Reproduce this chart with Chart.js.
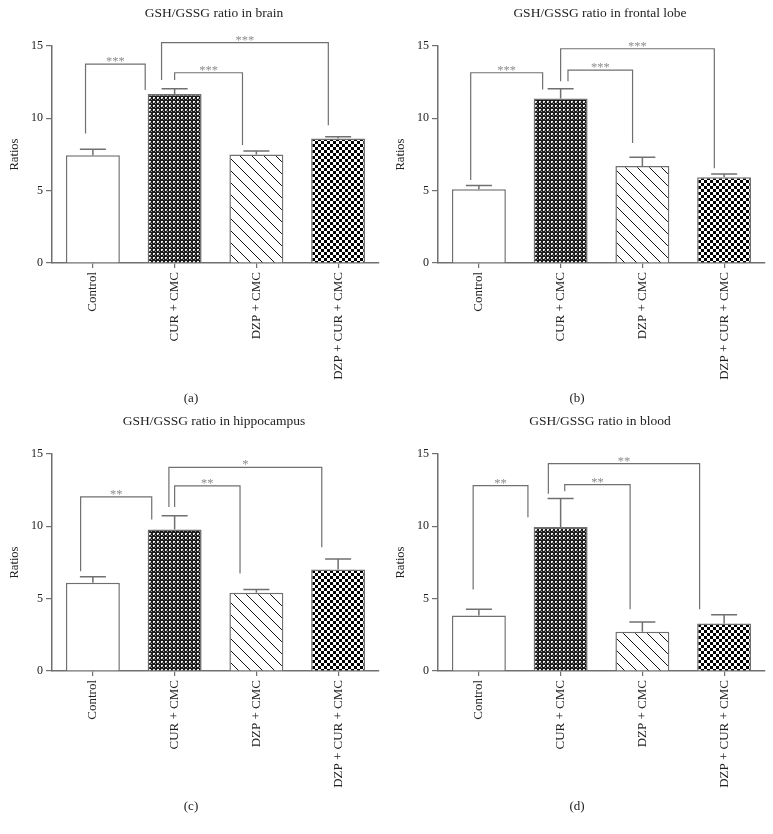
<!DOCTYPE html>
<html>
<head>
<meta charset="utf-8">
<script src="https://cdn.jsdelivr.net/npm/chart.js@4.4.0/dist/chart.umd.min.js"></script>
<style>
  body { margin: 0; background: #fff; }
  #wrap { position: relative; width: 773px; height: 834px; background: #fff; font-family: "Liberation Serif", serif; color: #222; }
  canvas { position: absolute; }
  .ttl { position: absolute; width: 320px; text-align: center; font-size: 13.5px; line-height: 16px; }
  .cap { position: absolute; width: 40px; text-align: center; font-size: 13px; line-height: 16px; }
</style>
</head>
<body>
<div id="wrap"></div>
<script>
// Groupes
const groups = ['Control', 'CUR + CMC', 'DZP + CMC', 'DZP + CUR + CMC'];
const yTicks = [0, 5, 10, 15];

// Moyennes et SEM
const brainMean = [7.45, 11.68, 7.5, 8.6];
const brainSem = [0.42, 0.37, 0.25, 0.12];
const frontalMean = [5.09, 11.37, 6.71, 5.93];
const frontalSem = [0.26, 0.67, 0.6, 0.23];
const hippoMean = [6.1, 9.78, 5.41, 7.02];
const hippoSem = [0.41, 0.96, 0.23, 0.73];
const bloodMean = [3.84, 9.96, 2.71, 3.29];
const bloodSem = [0.42, 1.96, 0.67, 0.6];

// Crochets de significativité : [x gauche, x droite, y haut, y bout gauche, y bout droit, texte]
const brainSig = [
  [-0.09, 0.64, 13.75, 8.95, 11.95, '***'],
  [0.84, 2.88, 15.23, 12.65, 9.53, '***'],
  [1.0, 1.83, 13.15, 12.65, 8.15, '***']
];
const frontalSig = [
  [-0.10, 0.78, 13.15, 5.74, 11.99, '***'],
  [1.0, 2.88, 14.81, 12.57, 6.55, '***'],
  [1.09, 1.88, 13.33, 12.57, 8.29, '***']
];
const hippoSig = [
  [-0.15, 0.72, 12.03, 6.9, 10.47, '**'],
  [0.93, 2.80, 14.08, 11.34, 8.56, '*'],
  [1.0, 1.80, 12.79, 11.34, 6.74, '**']
];
const bloodSig = [
  [-0.07, 0.60, 12.81, 5.64, 10.63, '**'],
  [0.85, 2.70, 14.33, 12.26, 4.26, '**'],
  [1.05, 1.85, 12.88, 12.42, 4.26, '**']
];

const panels = [
  { title: 'GSH/GSSG ratio in brain', cap: '(a)', mean: brainMean, sem: brainSem, sig: brainSig, left: 0, top: 0 },
  { title: 'GSH/GSSG ratio in frontal lobe', cap: '(b)', mean: frontalMean, sem: frontalSem, sig: frontalSig, left: 386, top: 0 },
  { title: 'GSH/GSSG ratio in hippocampus', cap: '(c)', mean: hippoMean, sem: hippoSem, sig: hippoSig, left: 0, top: 408 },
  { title: 'GSH/GSSG ratio in blood', cap: '(d)', mean: bloodMean, sem: bloodSem, sig: bloodSig, left: 386, top: 408 }
];

const lineGrey = '#707070';
const serif = '"Liberation Serif", "Times New Roman", serif';

// Motifs de remplissage
function makeTile(w, h, draw) {
  const c = document.createElement('canvas');
  c.width = w; c.height = h;
  const g = c.getContext('2d');
  draw(g);
  return g.createPattern(c, 'repeat');
}
const dotsPattern = makeTile(4, 4, g => {
  g.fillStyle = '#1c1c1c'; g.fillRect(0, 0, 4, 4);
  g.fillStyle = '#f0f0f0';
  g.fillRect(1, 1, 2, 1); g.fillRect(1, 2, 1, 1);
  g.fillStyle = '#8a8a8a'; g.fillRect(3, 3, 1, 1); g.fillRect(2, 2, 1, 1);
});
const hatchPattern = makeTile(12, 12, g => {
  g.fillStyle = '#fff'; g.fillRect(0, 0, 12, 12);
  g.strokeStyle = '#111'; g.lineWidth = 1;
  g.beginPath();
  g.moveTo(-1, -1); g.lineTo(13, 13);
  g.moveTo(-1, 11); g.lineTo(1, 13);
  g.moveTo(11, -1); g.lineTo(13, 1);
  g.stroke();
});
const checkPattern = makeTile(6, 6, g => {
  g.fillStyle = '#fff'; g.fillRect(0, 0, 6, 6);
  g.fillStyle = '#000'; g.fillRect(0, 0, 3, 3); g.fillRect(3, 3, 3, 3);
});

// Barres d'erreur (vers le haut seulement)
const errorBars = {
  id: 'errorBars',
  afterDatasetsDraw(chart, args, opts) {
    const ctx = chart.ctx;
    const y = chart.scales.y;
    const meta = chart.getDatasetMeta(0);
    ctx.save();
    ctx.strokeStyle = lineGrey;
    ctx.lineWidth = 1.5;
    meta.data.forEach((bar, i) => {
      const v = chart.data.datasets[0].data[i];
      const yTop = y.getPixelForValue(v + opts.sem[i]);
      ctx.beginPath();
      ctx.moveTo(bar.x, bar.y);
      ctx.lineTo(bar.x, yTop);
      ctx.moveTo(bar.x - 13, yTop);
      ctx.lineTo(bar.x + 13, yTop);
      ctx.stroke();
    });
    ctx.restore();
  }
};

// Crochets + étoiles
const sigBrackets = {
  id: 'sigBrackets',
  afterDatasetsDraw(chart, args, opts) {
    const ctx = chart.ctx;
    const x = chart.scales.x, y = chart.scales.y;
    ctx.save();
    ctx.strokeStyle = lineGrey;
    ctx.lineWidth = 1.2;
    ctx.fillStyle = '#8c8c8c';
    ctx.font = '12.5px ' + serif;
    ctx.textAlign = 'center';
    ctx.textBaseline = 'alphabetic';
    opts.items.forEach(b => {
      const x1 = x.getPixelForValue(b[0]);
      const x2 = x.getPixelForValue(b[1]);
      const yt = y.getPixelForValue(b[2]);
      ctx.beginPath();
      ctx.moveTo(x1, y.getPixelForValue(b[3]));
      ctx.lineTo(x1, yt);
      ctx.lineTo(x2, yt);
      ctx.lineTo(x2, y.getPixelForValue(b[4]));
      ctx.stroke();
      ctx.fillText(b[5], (x1 + x2) / 2, yt + 1);
    });
    ctx.restore();
  }
};

const wrap = document.getElementById('wrap');

panels.forEach(p => {
  const cv = document.createElement('canvas');
  cv.width = 386; cv.height = 410;
  cv.style.left = p.left + 'px';
  cv.style.top = p.top + 'px';
  wrap.appendChild(cv);

  const t = document.createElement('div');
  t.className = 'ttl';
  t.textContent = p.title;
  t.style.left = (p.left + 214 - 160) + 'px';
  t.style.top = (p.top + 5) + 'px';
  wrap.appendChild(t);

  const c = document.createElement('div');
  c.className = 'cap';
  c.textContent = p.cap;
  c.style.left = (p.left + 191 - 20) + 'px';
  c.style.top = (p.top + 390) + 'px';
  wrap.appendChild(c);

  new Chart(cv.getContext('2d'), {
    type: 'bar',
    data: {
      labels: groups,
      datasets: [{
        data: p.mean,
        backgroundColor: ['#ffffff', dotsPattern, hatchPattern, checkPattern],
        borderColor: lineGrey,
        borderWidth: 1.5,
        barPercentage: 0.66,
        categoryPercentage: 1.0
      }]
    },
    options: {
      responsive: false,
      animation: false,
      layout: { padding: { top: 46, right: 7, bottom: 27, left: 0 } },
      plugins: {
        legend: { display: false },
        tooltip: { enabled: false },
        errorBars: { sem: p.sem },
        sigBrackets: { items: p.sig }
      },
      scales: {
        x: {
          afterFit: s => { s.height = 120; },
          grid: { drawOnChartArea: false, offset: false, tickLength: 5, color: lineGrey, lineWidth: 1.2 },
          border: { color: lineGrey, width: 1.5 },
          ticks: {
            autoSkip: false, minRotation: 90, maxRotation: 90, padding: 4,
            color: '#222', font: { family: serif, size: 13 }
          }
        },
        y: {
          min: 0, max: 15,
          afterFit: s => { s.width = 52; },
          afterBuildTicks: s => { s.ticks = yTicks.map(v => ({ value: v })); },
          grid: { drawOnChartArea: false, tickLength: 6, color: lineGrey, lineWidth: 1.2 },
          border: { color: lineGrey, width: 1.5 },
          ticks: { padding: 3, color: '#222', font: { family: serif, size: 12 } },
          title: { display: true, text: 'Ratios', color: '#222', font: { family: serif, size: 12.5 }, padding: { top: 7, bottom: 0 } }
        }
      }
    },
    plugins: [errorBars, sigBrackets]
  });
});
</script>
</body>
</html>
